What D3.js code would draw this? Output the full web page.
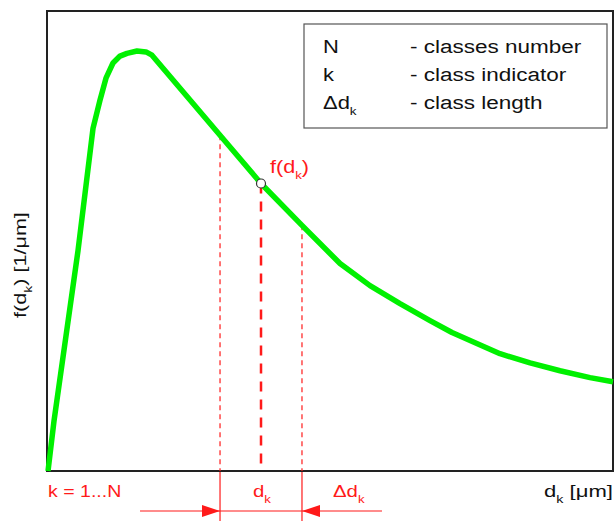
<!DOCTYPE html>
<html>
<head>
<meta charset="utf-8">
<script src="https://cdn.jsdelivr.net/npm/d3@7"></script>
<style>
  body { margin: 0; background: #fff; }
  text { font-family: "Liberation Sans", Arial, sans-serif; }
</style>
</head>
<body>
<svg id="chart" width="614" height="521"></svg>
<script>
// curve (d in arbitrary units 0..10, f relative 0..1)
let dValues = [0.018, 0.124, 0.548, 0.813, 0.936, 1.042, 1.166, 1.290, 1.413, 1.590, 1.749, 1.855, 2.456, 3.057, 3.781, 4.505, 5.177, 5.707, 6.237, 6.767, 7.155, 8.004, 8.534, 9.064, 9.594, 10.0];
let fValues = [0.0, 0.109, 0.479, 0.745, 0.806, 0.854, 0.887, 0.902, 0.908, 0.913, 0.911, 0.904, 0.817, 0.730, 0.625, 0.534, 0.451, 0.403, 0.364, 0.327, 0.301, 0.255, 0.235, 0.218, 0.203, 0.194];

// class k: lower bound, centre, upper bound
let classBounds = [3.057, 3.781, 4.505];

let legendSymbols = ["N", "k", "\u0394d"];
let legendSubs = ["", "", "k"];
let legendTexts = ["- classes number", "- class indicator", "- class length"];

let margins = { top: 11, right: 1, bottom: 50, left: 47 };
let width = 614 - margins.left - margins.right;
let height = 521 - margins.top - margins.bottom;

let xScale = d3.scaleLinear().domain([0, 10]).range([0, width]);
let yScale = d3.scaleLinear().domain([0, 1]).range([height, 0]);

let svg = d3.select("#chart");
let red = "#ff1a1a";

svg.append("defs").append("marker")
  .attr("id", "arrow")
  .attr("viewBox", "0 0 18 12")
  .attr("refX", 18).attr("refY", 6)
  .attr("markerWidth", 18).attr("markerHeight", 12)
  .attr("markerUnits", "userSpaceOnUse")
  .attr("orient", "auto")
  .append("path")
  .attr("d", "M0,0 L18,6 L0,12 Z")
  .style("fill", red);

let graph = svg.append("g")
  .attr("transform", "translate(" + margins.left + "," + margins.top + ")");

// frame
graph.append("rect")
  .attr("x", 0).attr("y", 0)
  .attr("width", width).attr("height", height)
  .style("fill", "none")
  .style("stroke", "#222")
  .style("stroke-width", 2);

let data = dValues.map(function(d, i) { return { d: d, f: fValues[i] }; });

let line = d3.line()
  .x(function(p) { return xScale(p.d); })
  .y(function(p) { return yScale(p.f); });

// y on the curve for a given d
function fAt(d) {
  for (let i = 1; i < data.length; i++) {
    if (d <= data[i].d) {
      let t = (d - data[i-1].d) / (data[i].d - data[i-1].d);
      return data[i-1].f + t * (data[i].f - data[i-1].f);
    }
  }
  return data[data.length - 1].f;
}

// dashed verticals of the class
graph.selectAll(".bound")
  .data([classBounds[0], classBounds[2]])
  .enter().append("line")
  .attr("x1", function(d) { return xScale(d); })
  .attr("x2", function(d) { return xScale(d); })
  .attr("y1", function(d) { return yScale(fAt(d)); })
  .attr("y2", height)
  .style("stroke", red)
  .style("stroke-width", 1.2)
  .style("stroke-dasharray", "5,4");

graph.append("line")
  .attr("x1", xScale(classBounds[1])).attr("x2", xScale(classBounds[1]))
  .attr("y1", yScale(fAt(classBounds[1]))).attr("y2", height)
  .style("stroke", red)
  .style("stroke-width", 2.5)
  .style("stroke-dasharray", "10,8");

graph.append("path")
  .attr("d", line(data))
  .style("fill", "none")
  .style("stroke", "#00f000")
  .style("stroke-width", 5.5)
  .style("stroke-linejoin", "round");

graph.append("circle")
  .attr("cx", xScale(classBounds[1]))
  .attr("cy", yScale(fAt(classBounds[1])))
  .attr("r", 4.5)
  .style("fill", "#fff")
  .style("stroke", "#333")
  .style("stroke-width", 1.2);

// text with a subscript, stretched a bit wider like the original
function label(parent, x, y, parts, opts) {
  let g = parent.append("g")
    .attr("transform", "translate(" + x + "," + y + ")" + (opts.rotate ? " rotate(" + opts.rotate + ")" : "") + " scale(" + opts.sx + ",1)");
  let t = g.append("text")
    .attr("text-anchor", opts.anchor || "start")
    .style("font-size", opts.size + "px")
    .style("fill", opts.color);
  let down = false;
  parts.forEach(function(p) {
    let s = t.append("tspan").text(p.t);
    if (p.sub) { s.attr("dy", 6).style("font-size", Math.round(opts.size * 0.62) + "px"); down = true; }
    else if (down) { s.attr("dy", -6); down = false; }
  });
  return t;
}

let cx = xScale(classBounds[1]), cy = yScale(fAt(classBounds[1]));
label(graph, cx + 9, cy - 11, [{t: "f(d"}, {t: "k", sub: true}, {t: ")"}],
  { size: 18, sx: 1.2, color: red });

// below the axis: solid bounds and arrows
graph.selectAll(".bbound")
  .data([classBounds[0], classBounds[2]])
  .enter().append("line")
  .attr("x1", function(d) { return xScale(d); })
  .attr("x2", function(d) { return xScale(d); })
  .attr("y1", height + 1)
  .attr("y2", height + margins.bottom)
  .style("stroke", red)
  .style("stroke-width", 1.2);

let arrowY = height + 40;
graph.append("line")
  .attr("x1", xScale(classBounds[0]) - 80).attr("x2", xScale(classBounds[0]))
  .attr("y1", arrowY).attr("y2", arrowY)
  .attr("marker-end", "url(#arrow)")
  .style("stroke", red).style("stroke-width", 1.2);
graph.append("line")
  .attr("x1", xScale(classBounds[0])).attr("x2", xScale(classBounds[2]))
  .attr("y1", arrowY).attr("y2", arrowY)
  .style("stroke", red).style("stroke-width", 1.2);
graph.append("line")
  .attr("x1", xScale(classBounds[2]) + 80).attr("x2", xScale(classBounds[2]))
  .attr("y1", arrowY).attr("y2", arrowY)
  .attr("marker-end", "url(#arrow)")
  .style("stroke", red).style("stroke-width", 1.2);

// bottom texts
label(graph, 1, height + 26, [{t: "k = 1...N"}], { size: 17, sx: 1.15, color: red });
label(graph, cx - 8, height + 26, [{t: "d"}, {t: "k", sub: true}], { size: 17, sx: 1.2, color: red });
label(graph, xScale(classBounds[2]) + 31, height + 26, [{t: "\u0394d"}, {t: "k", sub: true}], { size: 17, sx: 1.2, color: red });
label(graph, width, height + 26, [{t: "d"}, {t: "k", sub: true}, {t: " [\u03bcm]"}],
  { size: 17, sx: 1.3, color: "#111", anchor: "end" });

// y label
label(svg, 26, 265, [{t: "f(d"}, {t: "k", sub: true}, {t: ") [1/\u03bcm]"}],
  { size: 17, sx: 1.27, color: "#111", anchor: "middle", rotate: -90 });

// legend box
let legend = svg.append("g").attr("transform", "translate(304,24)");
legend.append("rect")
  .attr("width", 303).attr("height", 104)
  .style("fill", "#fff")
  .style("stroke", "#555")
  .style("stroke-width", 1.2);

legendSymbols.forEach(function(s, i) {
  let parts = [{t: s}];
  if (legendSubs[i]) parts.push({t: legendSubs[i], sub: true});
  label(legend, 19, 29 + i * 28, parts, { size: 18, sx: 1.22, color: "#111" });
  label(legend, 106, 29 + i * 28, [{t: legendTexts[i]}], { size: 18, sx: 1.25, color: "#111" });
});
</script>
</body>
</html>
